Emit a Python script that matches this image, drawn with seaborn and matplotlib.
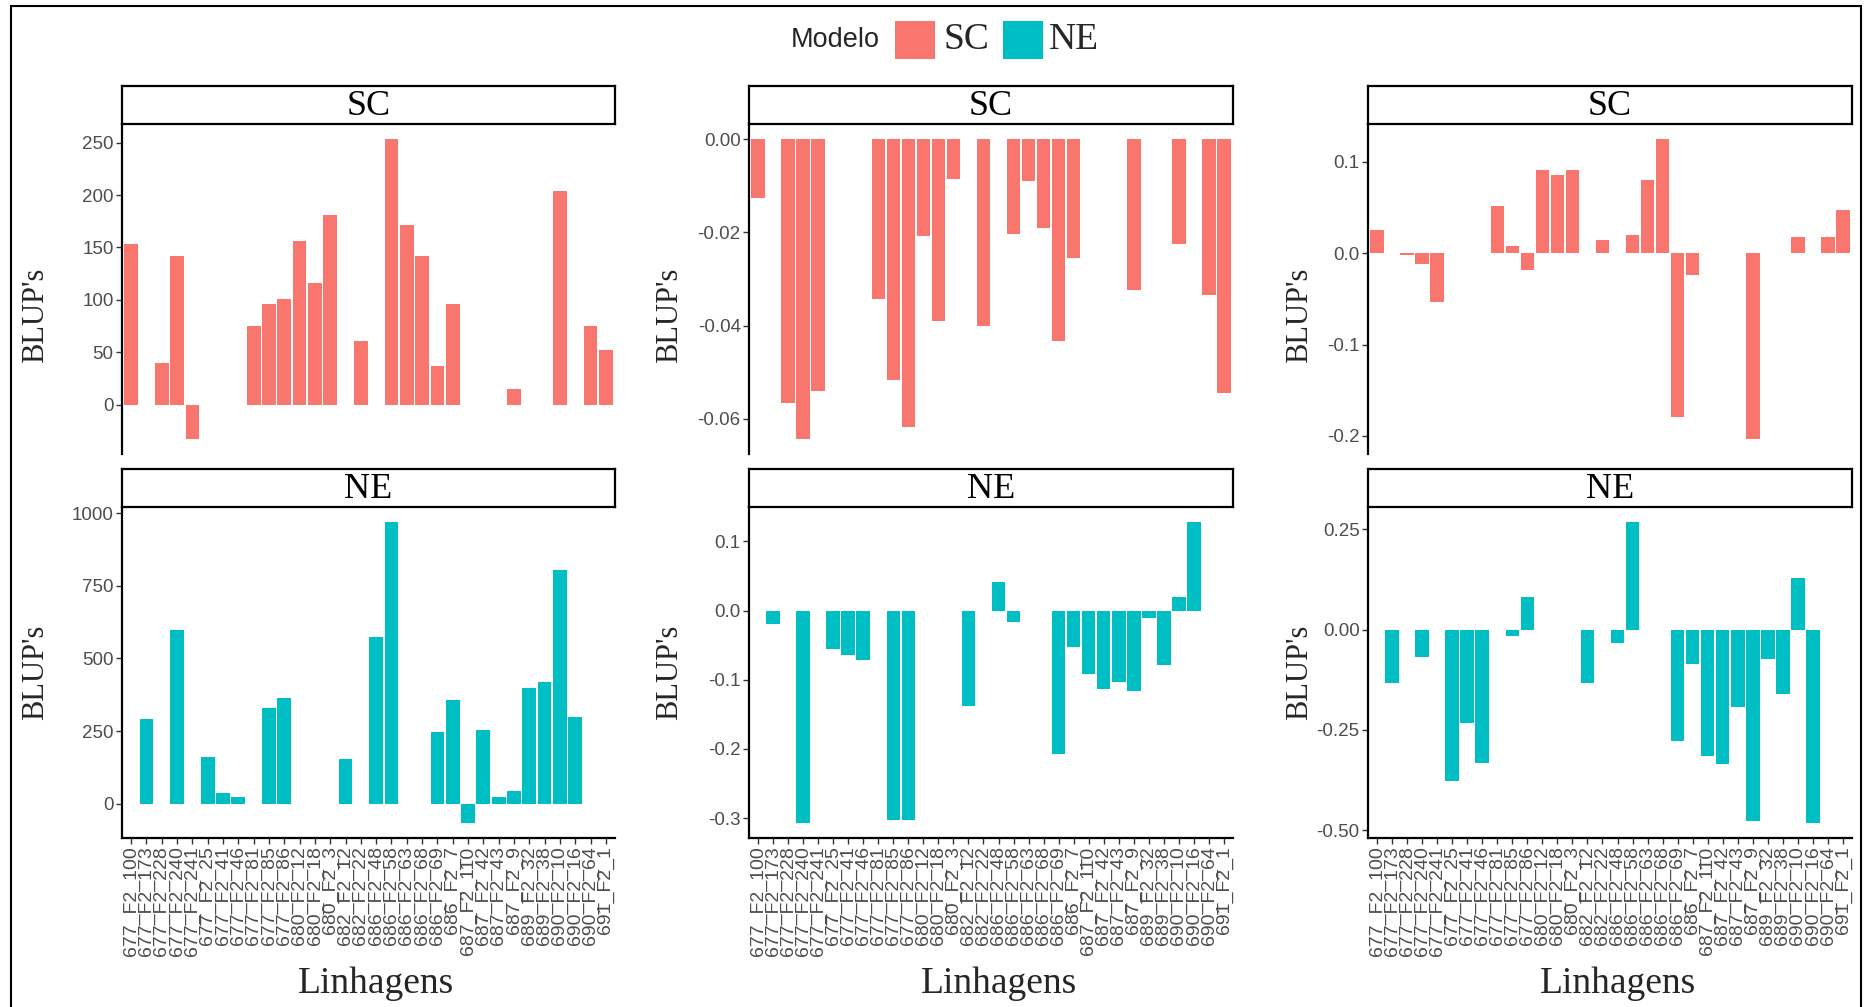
import numpy as np
import pandas as pd
import matplotlib
matplotlib.use("Agg")
import matplotlib.pyplot as plt
import seaborn as sns
from matplotlib.patches import Rectangle

# ---------------- data ----------------
linhagens = [
    "677_F2_100", "677_F2_173", "677_F2_228", "677_F2_240", "677_F2_241",
    "677_F2_25", "677_F2_41", "677_F2_46", "677_F2_81", "677_F2_85",
    "677_F2_86", "680_F2_12", "680_F2_18", "680_F2_3", "682_F2_12",
    "682_F2_22", "686_F2_48", "686_F2_58", "686_F2_63", "686_F2_68",
    "686_F2_69", "686_F2_7", "687_F2_110", "687_F2_42", "687_F2_43",
    "687_F2_9", "689_F2_32", "689_F2_38", "690_F2_10", "690_F2_16",
    "690_F2_64", "691_F2_1",
]
modelos = ["SC", "NE"]
cores = {"SC": "#F8766D", "NE": "#00BFC4"}
N = None

sc_painel1 = [153, N, 39.5, 142, -32.8, N, N, N, 74.8, 96.5, 100.6, 155.7, 116, 181, N, 60.8,
              N, 253.5, 171, 142, 37.3, 96.5, N, N, N, 15, N, N, 203.8, N, 74.8, 52.5]
ne_painel1 = [N, 290.8, N, 597.7, N, 162, 38, 25, N, 330, 363, N, N, N, 155, N,
              573.6, 969, N, N, 247, 357, -65.5, 253, 23, 43.7, 400, 420.7, 804.6, 300, N, N]

sc_painel2 = [-0.0126, N, -0.0566, -0.0643, -0.054, N, N, N, -0.0343, -0.0517, -0.0617, -0.0207,
              -0.0391, -0.0086, N, -0.0401, N, -0.0204, -0.0091, -0.0191, -0.0434, -0.0256, N, N,
              N, -0.0323, N, N, -0.0224, N, -0.0334, -0.0544]
ne_painel2 = [N, -0.019, N, -0.307, N, -0.055, -0.064, -0.071, N, -0.303, -0.303, N, N, N, -0.138, N,
              0.041, -0.016, N, N, -0.207, -0.052, -0.091, -0.114, -0.103, -0.116, -0.010, -0.079,
              0.019, 0.128, N, N]

sc_painel3 = [0.0248, N, -0.002, -0.0117, -0.0533, N, N, N, 0.0515, 0.008, -0.0182, 0.0912, 0.085,
              0.0909, N, 0.0139, N, 0.0197, 0.0799, 0.1248, -0.1796, -0.0234, N, N, N, -0.2033,
              N, N, 0.0175, N, 0.0175, 0.0474]
ne_painel3 = [N, -0.134, N, -0.068, N, -0.378, -0.232, -0.333, N, -0.015, 0.080, N, N, N, -0.134, N,
              -0.033, 0.268, N, N, -0.277, -0.086, -0.315, -0.336, -0.193, -0.476, -0.074, -0.161,
              0.128, -0.482, N, N]

yticks_sc1 = ["0", "50", "100", "150", "200", "250"]
yticks_ne1 = ["0", "250", "500", "750", "1000"]
yticks_sc2 = ["0.00", "-0.02", "-0.04", "-0.06"]
yticks_ne2 = ["0.1", "0.0", "-0.1", "-0.2", "-0.3"]
yticks_sc3 = ["0.1", "0.0", "-0.1", "-0.2"]
yticks_ne3 = ["0.25", "0.00", "-0.25", "-0.50"]

paineis = [
    {"SC": (sc_painel1, yticks_sc1), "NE": (ne_painel1, yticks_ne1)},
    {"SC": (sc_painel2, yticks_sc2), "NE": (ne_painel2, yticks_ne2)},
    {"SC": (sc_painel3, yticks_sc3), "NE": (ne_painel3, yticks_ne3)},
]

# ---------------- style ----------------
sns.set_theme(style="white")
plt.rcParams["axes.unicode_minus"] = False
plt.rcParams["font.family"] = ["Liberation Sans", "DejaVu Sans"]
SERIF = ["Liberation Serif", "DejaVu Serif"]
SANS = ["Liberation Sans", "DejaVu Sans"]

W, H = 1865, 1007
fig = plt.figure(figsize=(W / 100, H / 100), dpi=100)
fig.patch.set_facecolor("white")


def fr(x0, y0, x1, y1):
    return [x0 / W, 1 - y1 / H, (x1 - x0) / W, (y1 - y0) / H]


cols = [(122, 615), (749, 1233), (1368, 1852)]
rows = {"SC": (86, 124, 454), "NE": (469, 507, 838)}
ylab_x = [36, 670, 1300]
ylab_y = {"SC": 315, "NE": 672}

for ci, (x0, x1) in enumerate(cols):
    for m in modelos:
        vals, tlabels = paineis[ci][m]
        s0, p0, p1 = rows[m]
        df = pd.DataFrame({"Linhagens": linhagens,
                           "BLUP": np.array(vals, dtype=float)}).dropna()
        ax = fig.add_axes(fr(x0, p0, x1, p1))
        sns.barplot(data=df, x="Linhagens", y="BLUP", order=linhagens,
                    color=cores[m], saturation=1, width=0.9, errorbar=None,
                    linewidth=0, ax=ax)
        v = df["BLUP"].to_numpy()
        lo, hi = min(0.0, v.min()), max(0.0, v.max())
        pad = 0.05 * (hi - lo)
        ax.set_ylim(lo - pad, hi + pad)
        ax.set_xlim(-0.6, len(linhagens) - 0.4)
        ax.set_yticks([float(t) for t in tlabels])
        ax.set_yticklabels(tlabels, fontsize=13.5, color="#4D4D4D", family=SANS)
        ax.set_xlabel("")
        ax.set_ylabel("")
        for sp in ["top", "right"]:
            ax.spines[sp].set_visible(False)
        ax.spines["left"].set_color("black")
        ax.spines["left"].set_linewidth(1.6)
        ax.tick_params(axis="y", left=True, length=4, width=1.0, color="#333333", pad=2)
        if m == "SC":
            ax.spines["bottom"].set_visible(False)
            ax.set_xticks([])
        else:
            ax.spines["bottom"].set_color("black")
            ax.spines["bottom"].set_linewidth(1.6)
            ax.set_xticks(range(len(linhagens)))
            ax.set_xticklabels(linhagens, rotation=90, fontsize=14,
                               color="#4D4D4D", family=SANS)
            ax.tick_params(axis="x", bottom=True, length=4, width=1.0,
                           color="#333333", pad=2)
        ax.set_facecolor("white")

        # strip
        sax = fig.add_axes(fr(x0, s0, x1, p0))
        sax.set_xticks([])
        sax.set_yticks([])
        sax.set_facecolor("white")
        for sp in sax.spines.values():
            sp.set_visible(True)
            sp.set_color("black")
            sp.set_linewidth(1.6)
        sax.text(0.5, 0.46, m, ha="center", va="center", fontsize=26,
                 family=SERIF, color="black", transform=sax.transAxes)

        fig.text(ylab_x[ci] / W, 1 - ylab_y[m] / H, "BLUP's", rotation=90,
                 ha="center", va="center", fontsize=22, family=SERIF)

    fig.text(((x0 + x1) / 2 + 8) / W, 1 - 984 / H, "Linhagens", ha="center",
             va="center", fontsize=27, family=SERIF)

# legend
fig.text(880 / W, 1 - 40 / H, "Modelo", ha="right", va="center", fontsize=19.5, family=SANS)
leg = [("SC", 895, 943), ("NE", 1003, 1049)]
for lab, sx, tx in leg:
    fig.patches.append(Rectangle((sx / W, 1 - 59 / H), 40 / W, 38 / H,
                                 transform=fig.transFigure, facecolor=cores[lab],
                                 edgecolor="none"))
    fig.text(tx / W, 1 - 40 / H, lab, ha="left", va="center", fontsize=27, family=SERIF)

# outer frame
fig.patches.append(Rectangle((11 / W, -0.02), (1861 - 11) / W, 1 - 6 / H + 0.02,
                             transform=fig.transFigure, fill=False,
                             edgecolor="black", linewidth=1.5))

fig.savefig("out.png", dpi=100, facecolor="white")
